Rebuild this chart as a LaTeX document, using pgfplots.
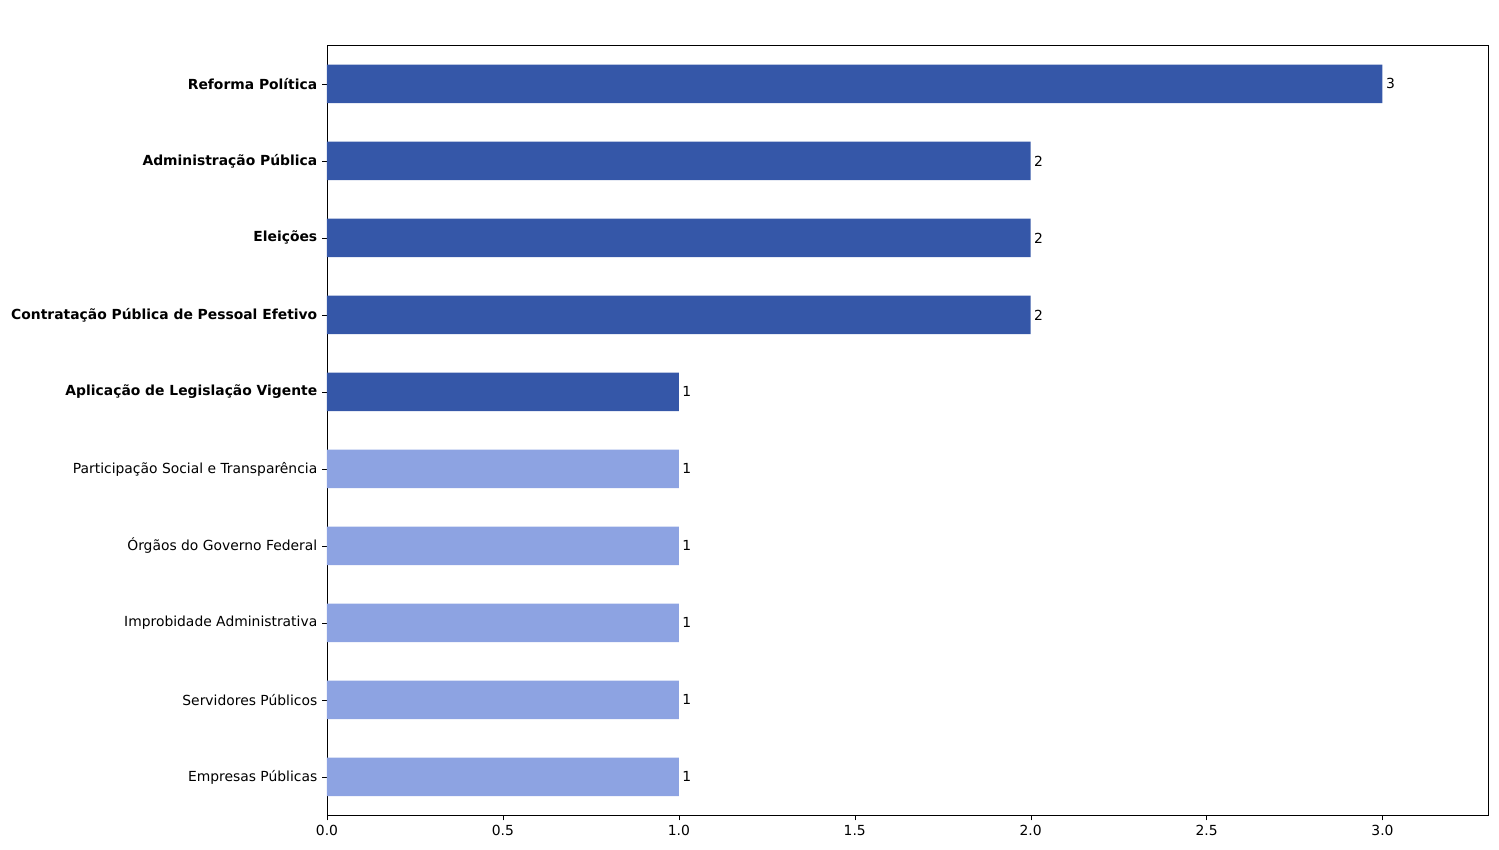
\documentclass[border=0pt]{standalone}
\usepackage{pgfplots}
\pgfplotsset{compat=1.18}
\usepackage{fontspec}
\setmainfont{DejaVu Sans}
\definecolor{dk}{HTML}{3557A8}
\definecolor{lt}{HTML}{8DA3E2}
\begin{document}
\begin{tikzpicture}
\useasboundingbox (-235.6pt,-24.5pt) rectangle (844.4pt,587.5pt);
\begin{axis}[at={(0,0)},anchor=south west,scale only axis,width=836.5pt,height=554.8pt,
 xmin=0,xmax=3.3,ymin=-0.5,ymax=9.5,
 xbar, bar width=0.5, bar shift=0pt,
 xtick={0,0.5,...,3.0},
 xticklabel style={/pgf/number format/fixed,/pgf/number format/precision=1,/pgf/number format/fixed zerofill},
 /pgf/number format/assume math mode=true,
 ytick={0,...,9},
 yticklabels={Empresas Públicas,Servidores Públicos,Improbidade Administrativa,Órgãos do Governo Federal,Participação Social e Transparência,\textbf{Aplicação de Legislação Vigente},\textbf{Contratação Pública de Pessoal Efetivo},\textbf{Eleições},\textbf{Administração Pública},\textbf{Reforma Política}},
 tick style={black}, major tick length=3.5pt, tick align=outside, xtick pos=bottom, ytick pos=left,
 tick label style={font=\fontsize{10}{12}\selectfont},
 nodes near coords, every node near coord/.append style={font=\fontsize{10}{12}\selectfont,black,anchor=west,xshift=-1pt},
]
\addplot[draw=none,fill=lt] coordinates {(1,0) (1,1) (1,2) (1,3) (1,4)};
\addplot[draw=none,fill=dk] coordinates {(1,5) (2,6) (2,7) (2,8) (3,9)};
\node[anchor=south west,inner sep=0pt,font=\fontsize{16}{19}\selectfont\bfseries] at ([yshift=10pt]rel axis cs:0,1) {Relações Institucionais - Quantidade de PROPOSTAS por Categoria};
\end{axis}
\end{tikzpicture}
\end{document}
